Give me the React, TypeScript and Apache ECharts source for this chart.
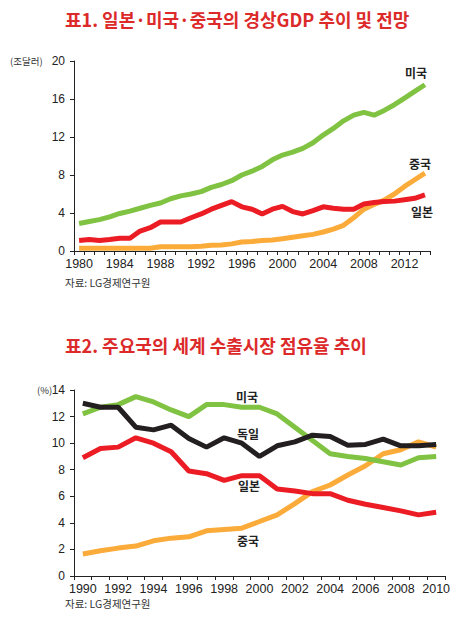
import React, { useEffect, useRef } from "react";
import * as echarts from "echarts";

const gdpYears = ["1980","1981","1982","1983","1984","1985","1986","1987","1988","1989","1990","1991","1992","1993","1994","1995","1996","1997","1998","1999","2000","2001","2002","2003","2004","2005","2006","2007","2008","2009","2010","2011","2012","2013","2014"];
const usGdp = [2.9,3.1,3.3,3.6,3.95,4.2,4.5,4.8,5.05,5.5,5.8,6.0,6.25,6.7,7.0,7.4,8.0,8.4,8.9,9.6,10.1,10.4,10.8,11.4,12.2,12.9,13.7,14.3,14.6,14.3,14.8,15.4,16.1,16.8,17.5];
const japanGdp = [1.1,1.2,1.1,1.2,1.35,1.35,2.1,2.45,3.05,3.05,3.05,3.5,3.9,4.4,4.8,5.2,4.65,4.4,3.9,4.4,4.7,4.15,3.9,4.25,4.65,4.5,4.4,4.4,4.95,5.1,5.2,5.25,5.4,5.55,5.9];
const chinaGdp = [0.3,0.3,0.3,0.3,0.3,0.3,0.3,0.3,0.45,0.45,0.45,0.45,0.5,0.6,0.63,0.75,0.95,1.0,1.1,1.15,1.3,1.45,1.6,1.75,2.0,2.3,2.7,3.5,4.4,4.9,5.35,6.0,6.8,7.5,8.2];
const gdpTicks = { min: 0, max: 20, interval: 4 };

const shareYears = ["1990","1991","1992","1993","1994","1995","1996","1997","1998","1999","2000","2001","2002","2003","2004","2005","2006","2007","2008","2009","2010"];
const usShare = [12.2,12.7,12.9,13.5,13.1,12.5,12.0,12.9,12.9,12.7,12.7,12.2,11.2,10.2,9.2,9.0,8.85,8.6,8.35,8.9,9.0];
const germanyShare = [13.0,12.7,12.7,11.2,11.0,11.35,10.35,9.7,10.4,10.0,9.0,9.8,10.1,10.6,10.5,9.85,9.9,10.3,9.8,9.8,9.9];
const japanShare = [8.9,9.6,9.7,10.4,10.0,9.35,7.9,7.7,7.2,7.55,7.55,6.55,6.4,6.2,6.2,5.7,5.4,5.15,4.9,4.6,4.8];
const chinaShare = [1.65,1.9,2.1,2.25,2.65,2.85,2.95,3.4,3.5,3.6,4.1,4.6,5.45,6.35,6.85,7.6,8.3,9.2,9.5,10.1,9.7];
const shareTicks = { min: 0, max: 14, interval: 2 };

const title1 = "표1. 일본·미국·중국의 경상GDP 추이 및 전망";
const title2 = "표2. 주요국의 세계 수출시장 점유율 추이";
const sourceText = "자료: LG경제연구원";
const unit1 = "(조달러)";
const unit2 = "(%)";

const GREEN = "#80c242";
const RED = "#ec1c24";
const ORANGE = "#fbab3a";
const BLACK = "#231f20";
const TITLE_RED = "#dc2a2a";
const KR = "'Noto Sans CJK KR', 'Liberation Sans', sans-serif";
const NUM = "'Liberation Sans', 'Noto Sans CJK KR', sans-serif";

function txt(text: string, x: number, y: number, opts: any = {}) {
  return {
    type: "text",
    x,
    y,
    silent: true,
    style: {
      text,
      fill: opts.fill || "#222",
      fontSize: opts.fontSize || 12,
      fontFamily: opts.fontFamily || KR,
      fontWeight: opts.fontWeight || "normal",
      align: opts.align || "left",
      verticalAlign: "middle",
    },
  };
}

function xAxisCfg(gridIndex: number, data: string[], labelInterval: number) {
  return {
    type: "category",
    gridIndex,
    data,
    boundaryGap: true,
    axisLine: { show: true, lineStyle: { color: "#222", width: 1 } },
    axisTick: { show: true, interval: 0, length: 4, lineStyle: { color: "#222" } },
    axisLabel: {
      interval: labelInterval,
      margin: 7,
      fontSize: 12.5,
      fontFamily: NUM,
      color: "#222",
    },
    splitLine: { show: false },
  };
}

function yAxisCfg(gridIndex: number, t: { min: number; max: number; interval: number }) {
  return {
    type: "value",
    gridIndex,
    min: t.min,
    max: t.max,
    interval: t.interval,
    axisLine: { show: true, lineStyle: { color: "#222", width: 1 } },
    axisTick: { show: true, length: 4, lineStyle: { color: "#222" } },
    axisLabel: { margin: 9, fontSize: 12, fontFamily: NUM, color: "#222" },
    splitLine: { show: false },
  };
}

function line(name: string, data: number[], color: string, idx: number) {
  return {
    type: "line",
    name,
    data,
    xAxisIndex: idx,
    yAxisIndex: idx,
    symbol: "none",
    lineStyle: { color, width: 5 },
    itemStyle: { color },
    silent: true,
  };
}

export default function App() {
  const ref = useRef<HTMLDivElement>(null);
  useEffect(() => {
    if (!ref.current) return;
    const chart = echarts.init(ref.current, undefined, { renderer: "svg" });
    chart.setOption({
      animation: false,
      backgroundColor: "#ffffff",
      grid: [
        { left: 74, top: 61, width: 356, height: 190 },
        { left: 74, top: 390, width: 371, height: 186 },
      ],
      xAxis: [xAxisCfg(0, gdpYears, 3), xAxisCfg(1, shareYears, 1)],
      yAxis: [yAxisCfg(0, gdpTicks), yAxisCfg(1, shareTicks)],
      series: [
        line("중국", chinaGdp, ORANGE, 0),
        line("미국", usGdp, GREEN, 0),
        line("일본", japanGdp, RED, 0),
        line("중국", chinaShare, ORANGE, 1),
        line("미국", usShare, GREEN, 1),
        line("독일", germanyShare, BLACK, 1),
        line("일본", japanShare, RED, 1),
      ],
      graphic: [
        txt(title1, 65, 19, { fill: TITLE_RED, fontSize: 18, fontWeight: "bold" }),
        txt(title2, 65, 345, { fill: TITLE_RED, fontSize: 18, fontWeight: "bold" }),
        txt(unit1, 10, 61, { fontSize: 9.5, fill: "#333" }),
        txt(unit2, 37, 390, { fontSize: 9.5, fill: "#333" }),
        txt(sourceText, 65, 282, { fontSize: 10.5, fill: "#333" }),
        txt(sourceText, 65, 603, { fontSize: 10.5, fill: "#333" }),
        txt("미국", 416, 72, { fontWeight: "bold", align: "center" }),
        txt("중국", 420, 163, { fontWeight: "bold", align: "center" }),
        txt("일본", 422, 211, { fontWeight: "bold", align: "center" }),
        txt("미국", 247, 396, { fontWeight: "bold", align: "center" }),
        txt("독일", 248, 433, { fontWeight: "bold", align: "center" }),
        txt("일본", 249, 485, { fontWeight: "bold", align: "center" }),
        txt("중국", 248, 540, { fontWeight: "bold", align: "center" }),
      ],
    });
    return () => chart.dispose();
  }, []);
  return (
    <div
      ref={ref}
      style={{ position: "fixed", left: 0, top: 0, width: 456, height: 620, background: "#fff" }}
    />
  );
}
